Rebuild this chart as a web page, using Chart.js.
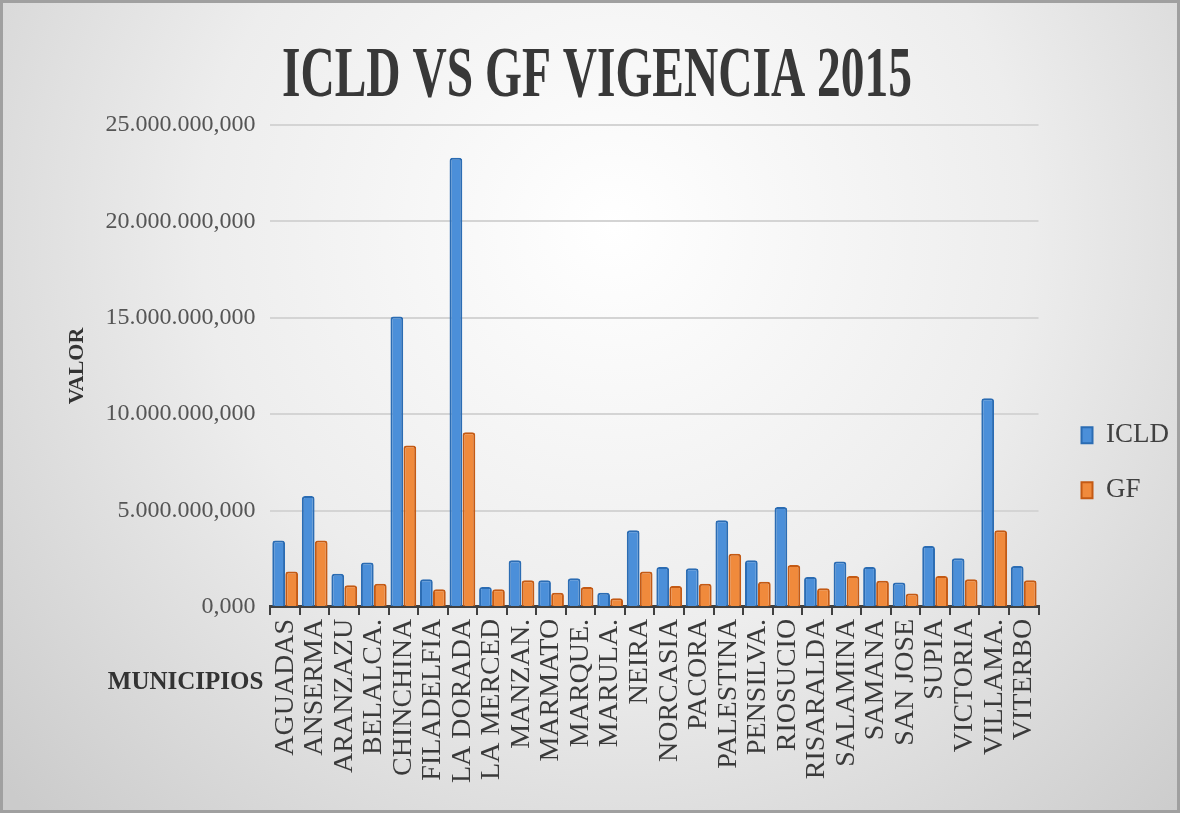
<!DOCTYPE html>
<html>
<head>
<meta charset="utf-8">
<title>ICLD VS GF VIGENCIA 2015</title>
<script src="https://cdn.jsdelivr.net/npm/chart.js@4.4.1/dist/chart.umd.min.js"></script>
<style>
  html, body { margin: 0; padding: 0; background: #e6e6e6; }
  #wrap { width: 1180px; height: 813px; }
</style>
</head>
<body>
<div id="wrap"><canvas id="icldChart"></canvas></div>
<script>
// Municipios (labels as shown in the chart, truncated ones keep the dot)
const municipios = [
  "AGUADAS", "ANSERMA", "ARANZAZU", "BELALCA.", "CHINCHINA", "FILADELFIA",
  "LA DORADA", "LA MERCED", "MANZAN.", "MARMATO", "MARQUE.", "MARULA.",
  "NEIRA", "NORCASIA", "PACORA", "PALESTINA", "PENSILVA.", "RIOSUCIO",
  "RISARALDA", "SALAMINA", "SAMANA", "SAN JOSE", "SUPIA", "VICTORIA",
  "VILLAMA.", "VITERBO"
];

// ICLD values (pesos)
const icld = [
  3450000000, 5750000000, 1720000000, 2300000000, 15070000000, 1430000000,
  23300000000, 1030000000, 2420000000, 1380000000, 1480000000, 740000000,
  3970000000, 2070000000, 2000000000, 4490000000, 2420000000, 5180000000,
  1550000000, 2350000000, 2070000000, 1260000000, 3160000000, 2520000000,
  10830000000, 2120000000
];

// GF values (pesos)
const gf = [
  1830000000, 3450000000, 1120000000, 1200000000, 8370000000, 920000000,
  9060000000, 920000000, 1380000000, 740000000, 1030000000, 450000000,
  1830000000, 1090000000, 1200000000, 2760000000, 1310000000, 2170000000,
  970000000, 1600000000, 1350000000, 690000000, 1600000000, 1430000000,
  3970000000, 1380000000
];

const yMax = 25000000000;
const yStep = 5000000000;

const serif = "'Liberation Serif', 'DejaVu Serif', serif";

// "25.000.000,000" style labels
function formatValor(v) {
  const miles = Math.round(v / 1000).toString().replace(/\B(?=(\d{3})+(?!\d))/g, ".");
  return miles + ",000";
}

// grey radial background + frame
const backgroundPlugin = {
  id: "fondo",
  beforeDraw(chart) {
    const { ctx, width, height } = chart;
    ctx.save();
    const g = ctx.createRadialGradient(width * 0.52, height * 0.28, 0, width * 0.52, height * 0.28, width * 0.7);
    g.addColorStop(0, "#ffffff");
    g.addColorStop(0.5, "#ededed");
    g.addColorStop(1, "#cbcbcb");
    ctx.fillStyle = g;
    ctx.fillRect(0, 0, width, height);
    ctx.strokeStyle = "#a0a0a0";
    ctx.lineWidth = 3;
    ctx.strokeRect(1.5, 1.5, width - 3, height - 3);
    ctx.restore();
  }
};

// leave a wider gap between the plot and the legend items
const legendGap = 15;
const legendExtra = 10;
const legendGapPlugin = {
  id: "legendGap",
  beforeLayout(chart) {
    const lg = chart.legend;
    if (lg && !lg._gapPatched) {
      const fit = lg.fit;
      lg.fit = function () {
        fit.call(this);
        this.width += legendExtra;
      };
      lg._gapPatched = true;
    }
  },
  afterLayout(chart) {
    if (chart.legend) chart.legend.left += legendGap;
  }
};

// condensed bold title + "MUNICIPIOS" next to the category labels
const textPlugin = {
  id: "textos",
  afterDraw(chart) {
    const { ctx, chartArea } = chart;
    ctx.save();
    ctx.fillStyle = "#383838";
    ctx.textBaseline = "middle";
    ctx.textAlign = "center";
    ctx.font = "bold 72px " + serif;
    const txt = "ICLD VS GF VIGENCIA 2015";
    const w = ctx.measureText(txt).width;
    const sx = 630 / w;
    ctx.translate(597, 77);
    ctx.scale(sx, 1);
    ctx.fillText(txt, 0, 0);
    ctx.restore();

    const xs = chart.scales.x;
    ctx.save();
    ctx.fillStyle = "#333333";
    ctx.font = "bold 25px " + serif;
    ctx.textAlign = "right";
    ctx.textBaseline = "middle";
    ctx.fillText("MUNICIPIOS", chartArea.left - 7, xs.top + (xs.bottom - xs.top) * 0.42);
    ctx.restore();
  }
};

new Chart(document.getElementById("icldChart").getContext("2d"), {
  type: "bar",
  data: {
    labels: municipios,
    datasets: [
      {
        label: "ICLD",
        data: icld,
        backgroundColor: "#4b8fd9",
        borderColor: "#2b6cb3",
        borderWidth: 2,
        borderRadius: { topLeft: 3, topRight: 3 },
        borderSkipped: "bottom",
        categoryPercentage: 0.88,
        barPercentage: 0.98
      },
      {
        label: "GF",
        data: gf,
        backgroundColor: "#f08a3c",
        borderColor: "#c45a14",
        borderWidth: 2,
        borderRadius: { topLeft: 3, topRight: 3 },
        borderSkipped: "bottom",
        categoryPercentage: 0.88,
        barPercentage: 0.98
      }
    ]
  },
  options: {
    responsive: true,
    maintainAspectRatio: false,
    animation: false,
    layout: {
      padding: { top: 125, left: 64, right: 6, bottom: 26 }
    },
    plugins: {
      title: { display: false },
      tooltip: { enabled: false },
      legend: {
        position: "right",
        title: {
          display: true,
          text: " ",
          font: { size: 8 },
          padding: 2
        },
        labels: {
          color: "#404040",
          font: { family: serif, size: 27 },
          boxWidth: 11,
          boxHeight: 16,
          padding: 28
        }
      }
    },
    scales: {
      x: {
        grid: {
          display: true,
          offset: true,
          drawOnChartArea: false,
          drawTicks: true,
          tickLength: 8,
          color: "#404040",
          lineWidth: 2
        },
        border: { display: true, color: "#404040", width: 3 },
        ticks: {
          autoSkip: false,
          minRotation: 90,
          maxRotation: 90,
          padding: 4,
          color: "#3a3a3a",
          font: { family: serif, size: 28 }
        }
      },
      y: {
        min: 0,
        max: yMax,
        grid: {
          color: "#d4d4d4",
          lineWidth: 2,
          drawTicks: false
        },
        border: { display: false },
        ticks: {
          stepSize: yStep,
          padding: 15,
          color: "#555555",
          font: { family: serif, size: 24 },
          callback: (v) => formatValor(v)
        },
        title: {
          display: true,
          text: "VALOR",
          color: "#333333",
          font: { family: serif, size: 22, weight: "bold" },
          padding: { top: 0, bottom: 0 }
        }
      }
    }
  },
  plugins: [backgroundPlugin, legendGapPlugin, textPlugin]
});
</script>
</body>
</html>
